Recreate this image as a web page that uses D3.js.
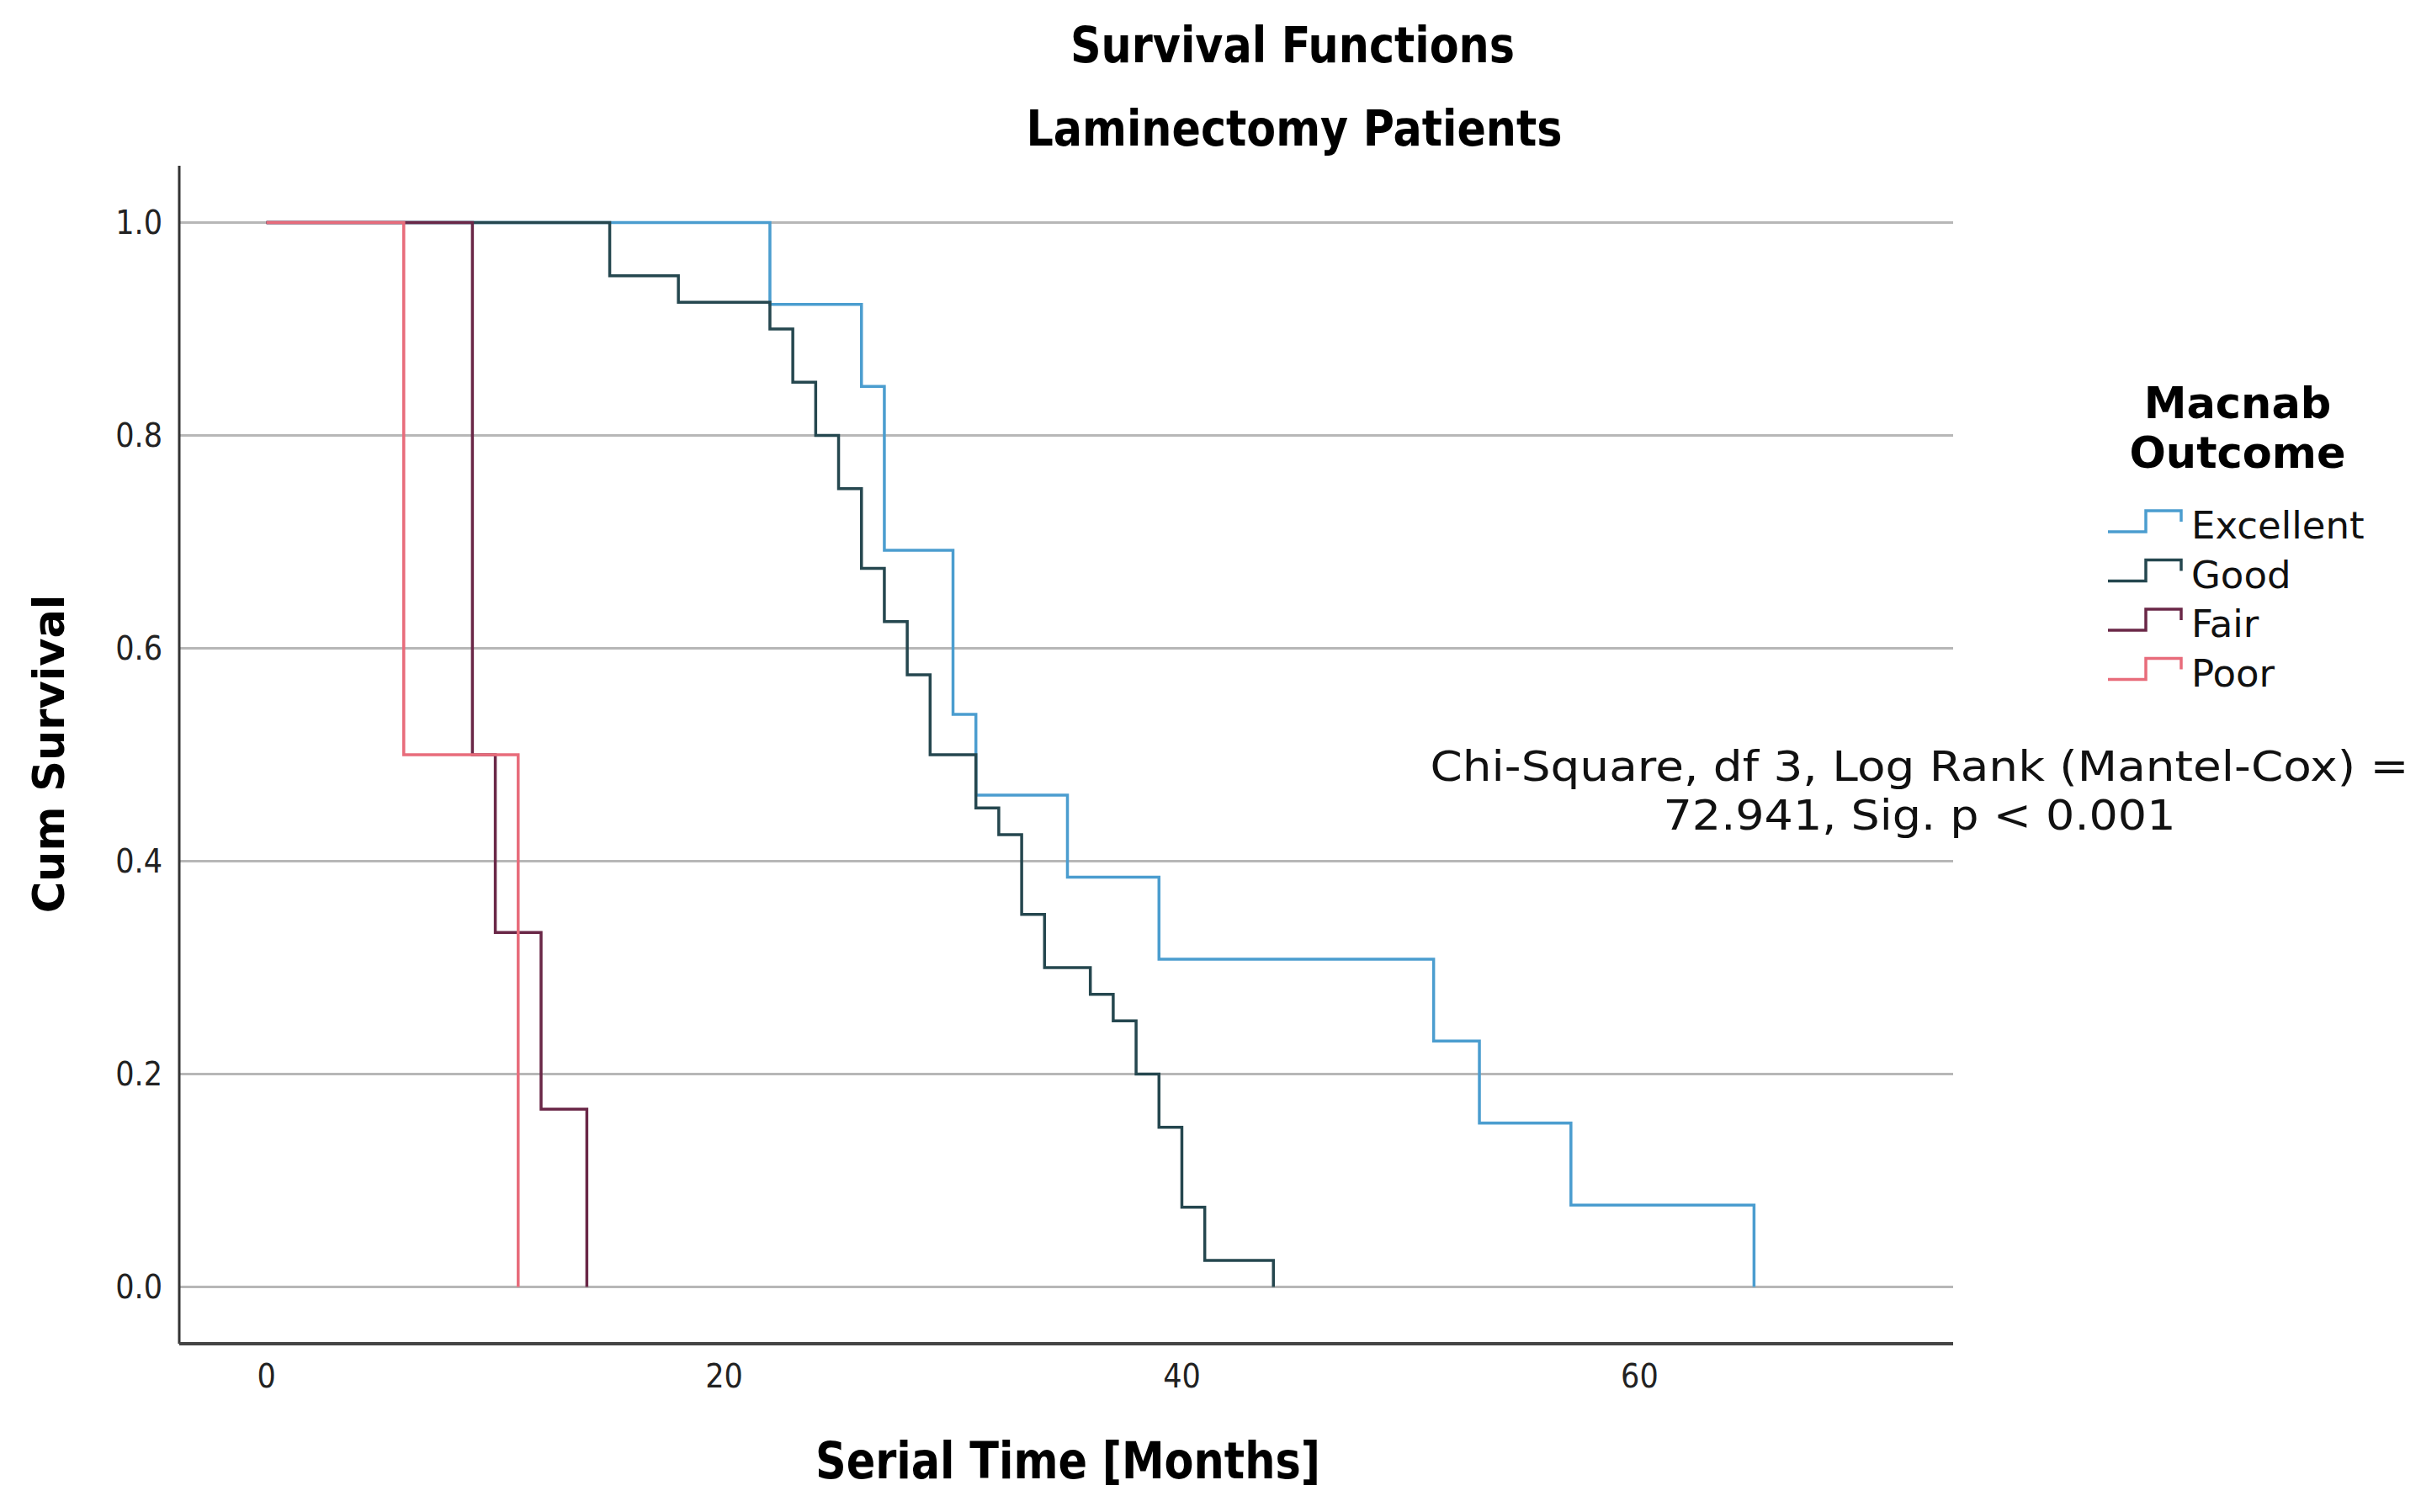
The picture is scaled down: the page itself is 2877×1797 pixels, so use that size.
<!DOCTYPE html>
<html>
<head>
<meta charset="utf-8">
<script src="https://cdn.jsdelivr.net/npm/d3@7"></script>
<style>
  body { margin: 0; background: #fff; }
  svg { display: block; }
</style>
</head>
<body>
<svg id="chart" width="2877" height="1797"></svg>
<script>
// Kaplan-Meier steps (months, cumulative survival)
var excellentTime = [0, 22, 26, 27, 30, 31, 35, 39, 51, 53, 57, 65];
var excellentSurv = [1, 0.923, 0.846, 0.692, 0.538, 0.462, 0.385, 0.308, 0.231, 0.154, 0.077, 0];
var goodTime = [0, 15, 18, 22, 23, 24, 25, 26, 27, 28, 29, 31, 32, 33, 34, 36, 37, 38, 39, 40, 41, 44];
var goodSurv = [1, 0.95, 0.925, 0.9, 0.85, 0.8, 0.75, 0.675, 0.625, 0.575, 0.5, 0.45, 0.425, 0.35, 0.3, 0.275, 0.25, 0.2, 0.15, 0.075, 0.025, 0];
var fairTime = [0, 9, 10, 12, 14];
var fairSurv = [1, 0.5, 0.333, 0.167, 0];
var poorTime = [0, 6, 11];
var poorSurv = [1, 0.5, 0];

var groupNames = ['Excellent', 'Good', 'Fair', 'Poor'];
var groupColors = ['#4b9dcf', '#25474f', '#6a2747', '#e86c7b'];
var xTicks = [0, 20, 40, 60];
var yTicks = [0, 0.2, 0.4, 0.6, 0.8, 1.0];

var titleText = 'Survival Functions';
var subtitleText = 'Laminectomy Patients';
var xTitle = 'Serial Time [Months]';
var yTitle = 'Cum Survival';
var legendTitle = ['Macnab', 'Outcome'];
var statLines = ['Chi-Square, df 3, Log Rank (Mantel-Cox) =', '72.941, Sig. p < 0.001'];
var statWidths = [1163, 609];

var series = [
  { name: groupNames[0], color: groupColors[0], t: excellentTime, s: excellentSurv },
  { name: groupNames[1], color: groupColors[1], t: goodTime, s: goodSurv },
  { name: groupNames[2], color: groupColors[2], t: fairTime, s: fairSurv },
  { name: groupNames[3], color: groupColors[3], t: poorTime, s: poorSurv }
];

var narrow = '"Liberation Sans Narrow", "DejaVu Sans Condensed", "Arial Narrow", sans-serif';
var wide = '"DejaVu Sans", Verdana, sans-serif';

var svg = d3.select('#chart');
// note: "top" is taken by window.top, so plot edges get their own names
var plotLeft = 213, plotRight = 2321, plotTop = 197, plotBottom = 1597;

var x = d3.scaleLinear().domain([-3.81, 73.7]).range([plotLeft, plotRight]);
var y = d3.scaleLinear().domain([-0.0533, 1.0533]).range([plotBottom, plotTop]);

// grid lines
svg.append('g').selectAll('line').data(yTicks).enter().append('line')
  .attr('x1', plotLeft).attr('x2', plotRight)
  .attr('y1', function(d) { return y(d); }).attr('y2', function(d) { return y(d); })
  .style('stroke', '#b7b7b7').style('stroke-width', 3);

// y tick labels
svg.append('g').selectAll('text').data(yTicks).enter().append('text')
  .attr('x', plotLeft - 20).attr('y', function(d) { return y(d); })
  .attr('dy', '0.35em').attr('text-anchor', 'end')
  .style('font-family', narrow).style('font-size', '39px').style('fill', '#222')
  .text(function(d) { return d3.format('.1f')(d); });

// x tick labels
svg.append('g').selectAll('text').data(xTicks).enter().append('text')
  .attr('x', function(d) { return x(d); }).attr('y', plotBottom + 52)
  .attr('text-anchor', 'middle')
  .style('font-family', narrow).style('font-size', '39px').style('fill', '#222')
  .text(function(d) { return d; });

// step curves, first series underneath
var line = d3.line()
  .x(function(d) { return x(d[0]); })
  .y(function(d) { return y(d[1]); })
  .curve(d3.curveStepAfter);

svg.append('g').selectAll('path').data(series).enter().append('path')
  .attr('d', function(d) { return line(d3.zip(d.t, d.s)); })
  .style('fill', 'none')
  .style('stroke', function(d) { return d.color; })
  .style('stroke-width', 3.5);

// axes lines
svg.append('line').attr('x1', plotLeft).attr('x2', plotLeft).attr('y1', plotTop).attr('y2', plotBottom)
  .style('stroke', '#333').style('stroke-width', 3);
svg.append('line').attr('x1', plotLeft).attr('x2', plotRight).attr('y1', plotBottom).attr('y2', plotBottom)
  .style('stroke', '#444').style('stroke-width', 4);

// titles
svg.append('text').attr('x', 1536).attr('y', 74).attr('text-anchor', 'middle')
  .attr('textLength', 528).attr('lengthAdjust', 'spacingAndGlyphs')
  .style('font-family', narrow).style('font-weight', 'bold').style('font-size', '58px')
  .text(titleText);
svg.append('text').attr('x', 1538).attr('y', 173).attr('text-anchor', 'middle')
  .attr('textLength', 637).attr('lengthAdjust', 'spacingAndGlyphs')
  .style('font-family', narrow).style('font-weight', 'bold').style('font-size', '58px')
  .text(subtitleText);
svg.append('text').attr('x', 1269).attr('y', 1757).attr('text-anchor', 'middle')
  .attr('textLength', 600).attr('lengthAdjust', 'spacingAndGlyphs')
  .style('font-family', narrow).style('font-weight', 'bold').style('font-size', '60px')
  .text(xTitle);
svg.append('text').attr('transform', 'translate(76,896) rotate(-90)')
  .attr('text-anchor', 'middle')
  .style('font-family', wide).style('font-weight', 'bold').style('font-size', '51px')
  .text(yTitle);

// legend
var legend = svg.append('g');
legend.selectAll('text.lt').data(legendTitle).enter().append('text')
  .attr('class', 'lt')
  .attr('x', 2659).attr('y', function(d, i) { return 497 + i * 59; })
  .attr('text-anchor', 'middle')
  .style('font-family', wide).style('font-weight', 'bold').style('font-size', '51px')
  .text(function(d) { return d; });

var item = legend.selectAll('g.item').data(series).enter().append('g')
  .attr('class', 'item')
  .attr('transform', function(d, i) { return 'translate(2505,' + (640 + i * 58.5) + ')'; });
item.append('path')
  .attr('d', 'M0,-8 H45 V-33 H87 V-20')
  .style('fill', 'none')
  .style('stroke', function(d) { return d.color; })
  .style('stroke-width', 3.5);
item.append('text').attr('x', 99).attr('y', 0)
  .style('font-family', wide).style('font-size', '45px').style('fill', '#111')
  .text(function(d) { return d.name; });

// log rank annotation
svg.append('g').selectAll('text').data(statLines).enter().append('text')
  .attr('x', 2281).attr('y', function(d, i) { return 928 + i * 58; })
  .attr('text-anchor', 'middle')
  .attr('textLength', function(d, i) { return statWidths[i]; })
  .attr('lengthAdjust', 'spacingAndGlyphs')
  .style('font-family', wide)
  .style('font-size', '50px').style('fill', '#111')
  .text(function(d) { return d; });
</script>
</body>
</html>
